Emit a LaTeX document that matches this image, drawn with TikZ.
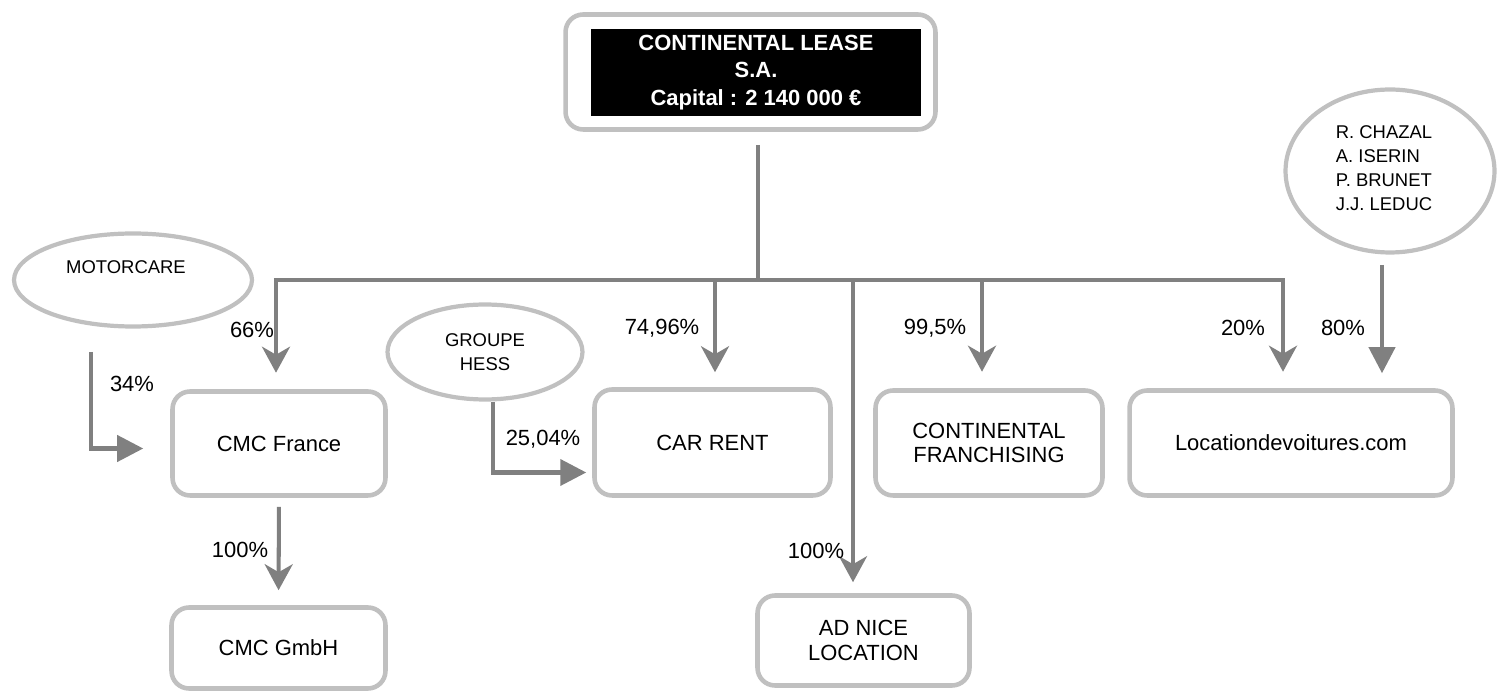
\documentclass[tikz,border=0pt]{standalone}
\usepackage{fontspec}
\setmainfont{Liberation Sans}
\usetikzlibrary{arrows.meta,shapes.geometric}
\definecolor{boxgray}{RGB}{192,192,192}
\definecolor{linkgray}{RGB}{128,128,128}

\begin{document}
\begin{tikzpicture}[
    x=0.02cm, y=-0.02cm,
    box/.style={draw=boxgray, line width=2.6pt, rounded corners=10pt, align=center, inner sep=2pt, font=\fontsize{12.5}{14}\selectfont},
    owner/.style={ellipse, draw=boxgray, line width=2.4pt, align=center, inner sep=0pt, font=\fontsize{10.5}{13.6}\selectfont},
    pct/.style={inner sep=1pt, font=\fontsize{12.5}{14}\selectfont},
    link/.style={draw=linkgray, line width=2.3pt},
    drop/.style={link, -{Stealth[length=0.52cm, width=0.56cm, inset=0.16cm]}},
    feed/.style={link, -{Triangle[length=0.52cm, width=0.52cm]}}
  ]
    \useasboundingbox (0,0) rectangle (1498,695);

    % Holding (grey frame + black title block)
    \node[box, minimum width=7.4cm, minimum height=2.3cm] (lease) at (750.5,72) {};
    \node[fill=black, text=white, minimum width=6.6cm, minimum height=1.7cm, align=center,
          font=\fontsize{12.5}{15.8}\selectfont\bfseries] (title) at (756,72.5)
          {CONTINENTAL LEASE\\S.A.\\Capital : 2 140 000 €};

    % Subsidiaries
    \node[box, minimum width=4.26cm, minimum height=2.08cm] (cmcfr)   at (279,443.5)  {CMC France};
    \node[box, minimum width=4.72cm, minimum height=2.12cm] (carrent) at (712.5,442.5) {CAR RENT};
    \node[box, minimum width=4.54cm, minimum height=2.1cm]  (franch)  at (989,443)    {CONTINENTAL\\FRANCHISING};
    \node[box, minimum width=6.46cm, minimum height=2.1cm]  (locvoit) at (1291,443)   {Locationdevoitures.com};
    \node[box, minimum width=4.28cm, minimum height=1.62cm] (gmbh)    at (278.5,648)  {CMC GmbH};
    \node[box, minimum width=4.24cm, minimum height=1.8cm]  (adnice)  at (863.5,640.5) {AD NICE\\LOCATION};

    % Other shareholders
    \node[owner, minimum width=4.76cm, minimum height=1.86cm,
          label={[font=\fontsize{10.5}{12}\selectfont, xshift=-0.14cm, yshift=0.26cm]center:MOTORCARE}] (motor) at (133,280) {};
    \node[owner, minimum width=3.9cm, minimum height=1.9cm] (hess) at (485,352) {GROUPE\\HESS};
    \node[owner, minimum width=4.18cm, minimum height=3.26cm,
          label={[font=\fontsize{10.5}{13.6}\selectfont, align=left, xshift=-0.12cm, yshift=0.06cm]center:R. CHAZAL\\A. ISERIN\\P. BRUNET\\J.J. LEDUC}] (persons) at (1390,171) {};

    % bus under the holding
    \coordinate (bus) at (758,280);
    \coordinate (b1) at (276,280);
    \coordinate (b2) at (715,280);
    \coordinate (b3) at (853,280);
    \coordinate (b4) at (982,280);
    \coordinate (b5) at (1283,280);
    \draw[link, shorten <=0.26cm] (lease.south -| bus) -- (bus);
    \draw[link] ([xshift=-1.15pt]b1) -- ([xshift=1.15pt]b5);
    \draw[drop, shorten >=0.33cm] (b1) -- (b1 |- cmcfr.north);
    \draw[drop, shorten >=0.30cm] (b2) -- (b2 |- carrent.north);
    \draw[drop, shorten >=0.22cm] (b3) -- (b3 |- adnice.north);
    \draw[drop, shorten >=0.33cm] (b4) -- (b4 |- franch.north);
    \draw[drop, shorten >=0.33cm] (b5) -- (b5 |- locvoit.north);
    \draw[drop, shorten <=0.18cm, shorten >=0.30cm] (cmcfr.south) -- (gmbh.north);

    % minority holdings
    \coordinate (m1) at (91,352);
    \coordinate (h1) at (493,402);
    \coordinate (p1) at (1382,265);
    \draw[feed, shorten >=0.54cm] (m1) |- ([yshift=-0.1cm]cmcfr.west);
    \draw[feed, shorten >=0.12cm] (h1) |- ([yshift=-0.6cm]carrent.west);
    \draw[feed, shorten >=0.30cm] (p1) -- (p1 |- locvoit.north);

    % percentages
    \node[pct] (p66)   at (252,330) {66\%};
    \node[pct] (p34)   at (132,384) {34\%};
    \node[pct] (p7496) at (662,328) {74,96\%};
    \node[pct] (p2504) at (543,439) {25,04\%};
    \node[pct] (p995)  at (935,328) {99,5\%};
    \node[pct] (p20)   at (1243,328) {20\%};
    \node[pct] (p80)   at (1343,328) {80\%};
    \node[pct] (p100a) at (240,550) {100\%};
    \node[pct] (p100b) at (816,551) {100\%};
  \end{tikzpicture}
\end{document}
